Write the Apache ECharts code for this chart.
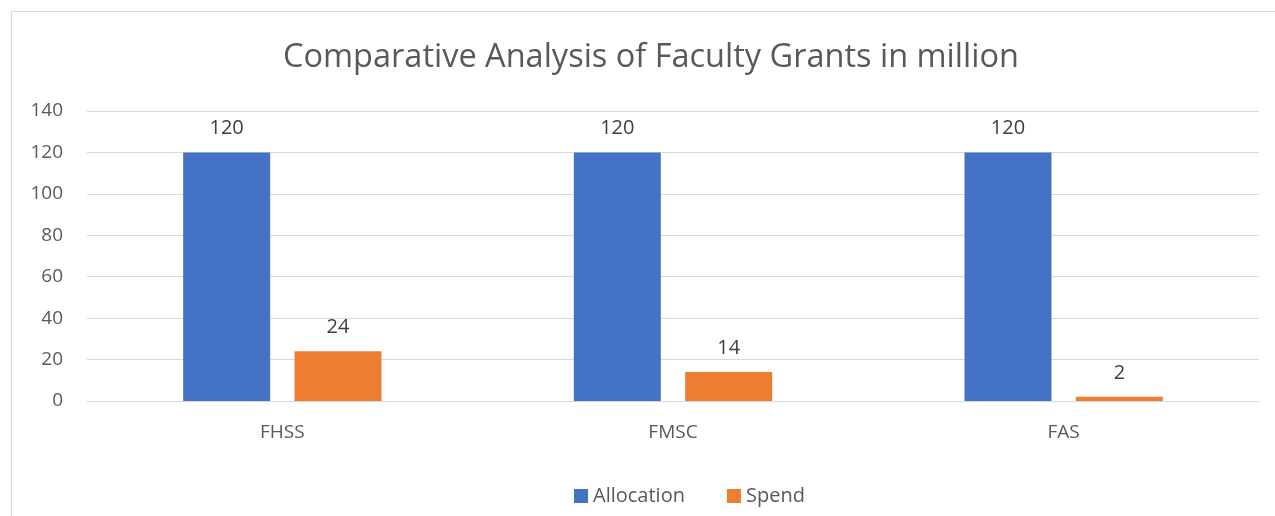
<!DOCTYPE html>
<html>
<head>
<meta charset="utf-8">
<script src="https://cdn.jsdelivr.net/npm/echarts@6/dist/echarts.min.js"></script>
<style>
  html, body { margin: 0; padding: 0; background: #fff; }
  #frame { position: absolute; left: 11px; top: 11px; width: 1300px; height: 540px; border: 1px solid #d9d9d9; box-sizing: border-box; }
  #chart { width: 1275px; height: 516px; position: absolute; left: 0; top: 0; }
</style>
</head>
<body>
<div id="frame"></div>
<div id="chart"></div>
<script>
// faculty grants, in million
var faculties = ['FHSS', 'FMSC', 'FAS'];
var allocation = [120, 120, 120];
var spend = [24, 14, 2];

var font = 'Open Sans';
var txt = '#595959';

var myChart = echarts.init(document.getElementById('chart'));
myChart.setOption({
    animation: false,
    title: {
        text: 'Comparative Analysis of Faculty Grants in million',
        left: 278,
        top: 36,
        textStyle: { fontFamily: font, fontSize: 32.5, fontWeight: 'normal', color: txt }
    },
    legend: {
        left: 569,
        top: 481,
        itemWidth: 14,
        itemHeight: 14,
        itemGap: 42,
        icon: 'rect',
        textStyle: { fontFamily: font, fontSize: 20, color: txt },
        data: ['Allocation', 'Spend']
    },
    grid: { left: 87, right: 16, top: 111, bottom: 115, containLabel: false },
    xAxis: {
        type: 'category',
        data: faculties,
        axisLine: { lineStyle: { color: '#d9d9d9', width: 1 } },
        axisTick: { show: false },
        axisLabel: { fontFamily: font, fontSize: 19, color: txt, margin: 22 }
    },
    yAxis: {
        type: 'value',
        min: 0,
        max: 140,
        interval: 20,
        axisLine: { show: false },
        axisTick: { show: false },
        splitLine: { lineStyle: { color: '#d9d9d9', width: 1 } },
        axisLabel: { fontFamily: font, fontSize: 19, color: txt, margin: 24 }
    },
    series: [
        {
            name: 'Allocation',
            type: 'bar',
            data: allocation,
            barWidth: 87,
            barGap: '28%',
            itemStyle: { color: '#4472c4' },
            label: { show: true, position: 'top', distance: 14, fontFamily: font, fontSize: 20, color: '#404040' }
        },
        {
            name: 'Spend',
            type: 'bar',
            data: spend,
            barWidth: 87,
            itemStyle: { color: '#ed7d31' },
            label: { show: true, position: 'top', distance: 14, fontFamily: font, fontSize: 20, color: '#404040' }
        }
    ]
});
</script>
</body>
</html>
